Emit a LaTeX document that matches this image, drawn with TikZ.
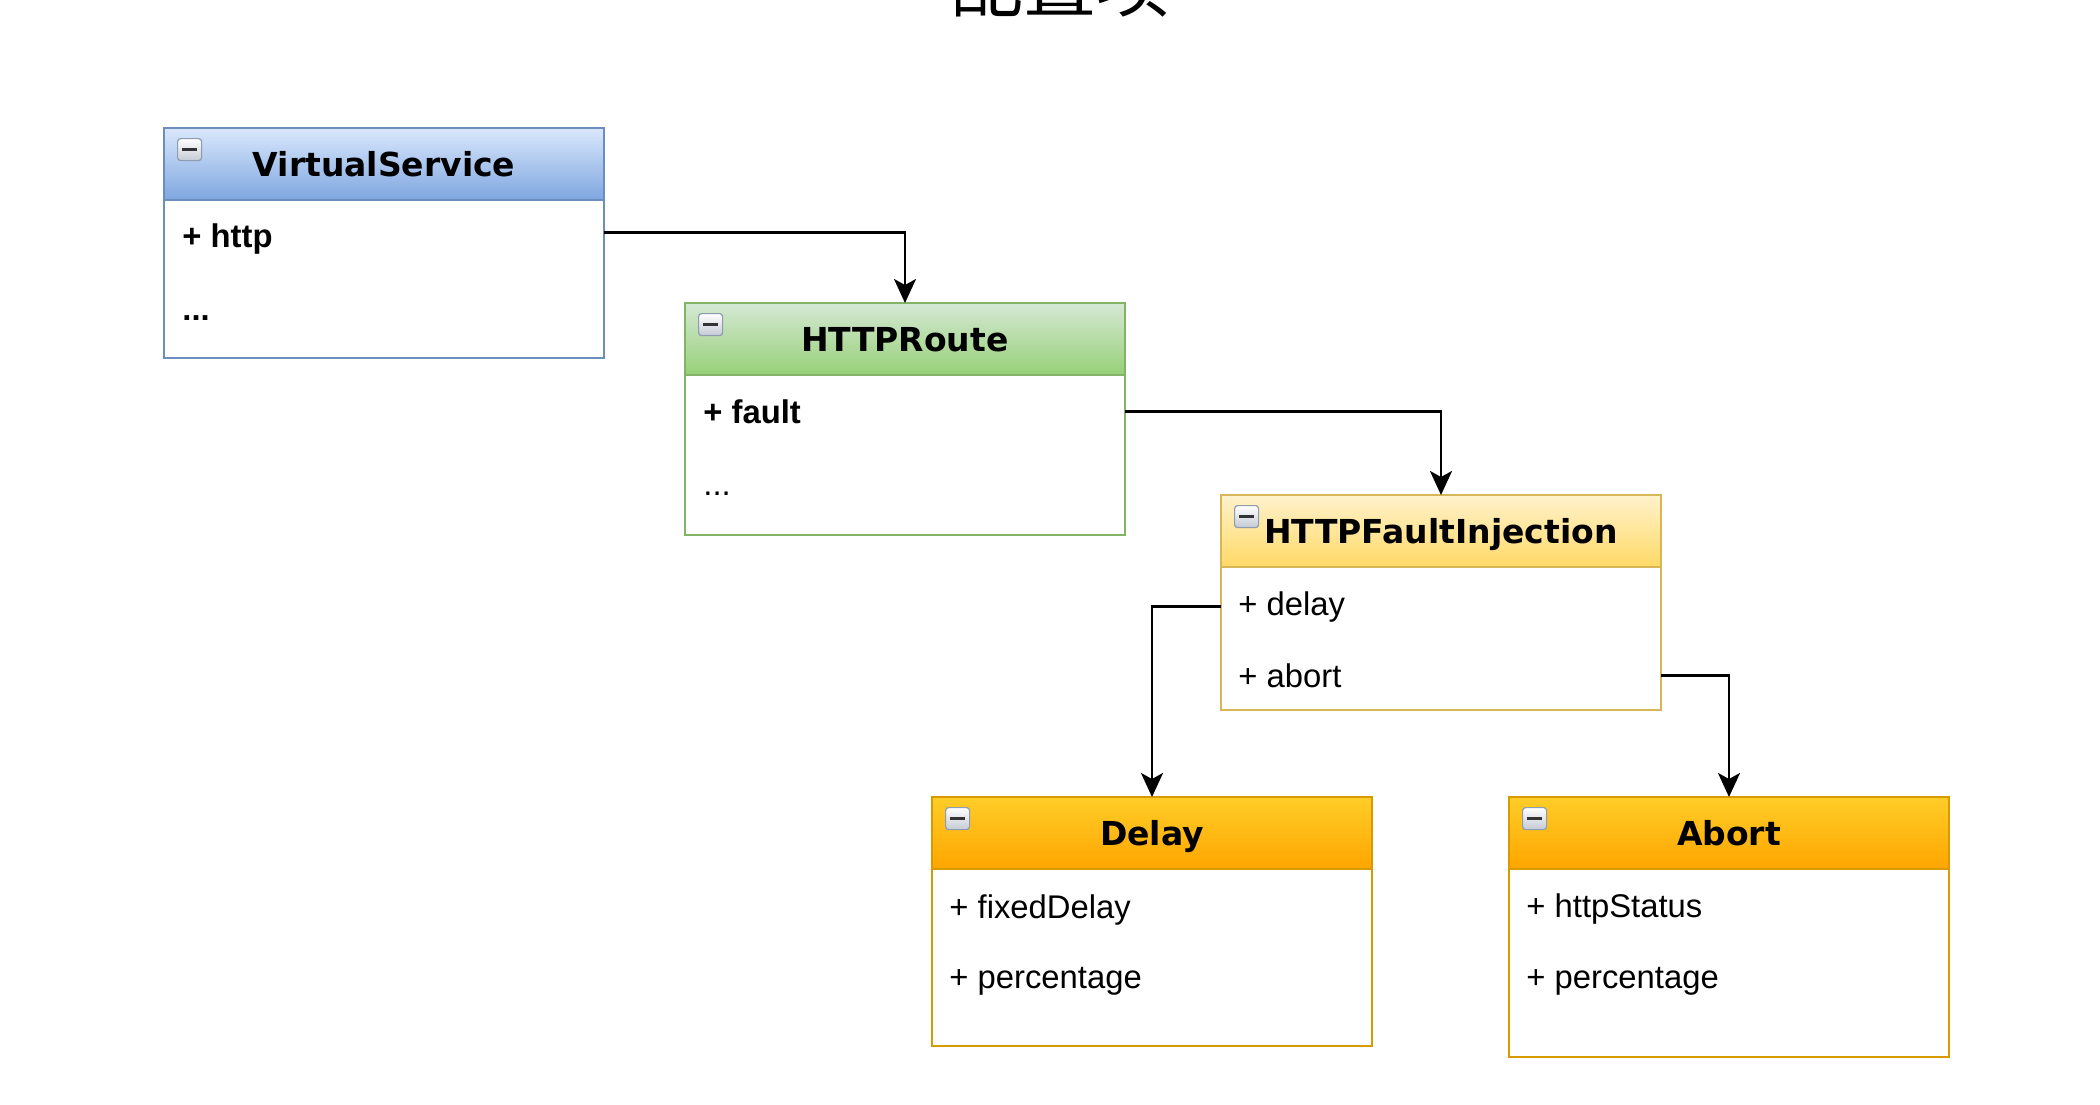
\documentclass[tikz,border=0pt]{standalone}
\usepackage{fontspec}
\setmainfont{Liberation Sans}
\newfontfamily\titlefont{DejaVu Sans}
\newfontfamily\cjkfont{Noto Sans CJK SC}
\usetikzlibrary{arrows.meta}
\definecolor{vsTop}{HTML}{DAE8FC}\definecolor{vsBot}{HTML}{7EA6E0}\definecolor{vsLine}{HTML}{6C8EBF}
\definecolor{hrTop}{HTML}{D5E8D4}\definecolor{hrBot}{HTML}{97D077}\definecolor{hrLine}{HTML}{82B366}
\definecolor{fiTop}{HTML}{FFF2CC}\definecolor{fiBot}{HTML}{FFD966}\definecolor{fiLine}{HTML}{D6B656}
\definecolor{orTop}{HTML}{FFCD28}\definecolor{orBot}{HTML}{FFA500}\definecolor{orLine}{HTML}{D79B00}
\definecolor{icBorder}{HTML}{8E9CB0}\definecolor{icBot}{HTML}{C4CAD4}\definecolor{icBar}{HTML}{333333}
\tikzset{
  classbox/.style={draw, line width=1pt, fill=white, minimum width=220pt, inner sep=0pt, outer sep=0pt},
  hdr/.style={draw, line width=1pt, minimum width=220pt, minimum height=36pt, inner sep=0pt, outer sep=0pt},
  ttl/.style={anchor=base, inner sep=0pt, font=\titlefont\bfseries\fontsize{16.5}{19}\selectfont},
  rowtext/.style={anchor=base west, inner sep=0pt, font=\fontsize{16.4}{19}\selectfont},
  iconbox/.style={draw=icBorder, line width=0.6pt, rounded corners=1.5pt, top color=white, bottom color=icBot, minimum width=12pt, minimum height=11pt, inner sep=0pt},
  conn/.style={draw, line width=1.25pt, -{Stealth[length=12pt,width=11pt,inset=3pt]}}
}
\newcommand{\umlclass}[8]{%
  \node[classbox, draw=#7, minimum height=#4*0.5pt, anchor=north west] (#1) at (#2,#3) {};
  \node[hdr, draw=#7, top color=#5, bottom color=#6, anchor=north west] (#1h) at (#2,#3) {};
  \node[iconbox, anchor=north west] (#1i) at (#2+13,#3+10) {};
  \draw[icBar, line width=1.8pt] ([xshift=2.5pt]#1i.west) -- ([xshift=-2.5pt]#1i.east);
  \node[ttl] (#1t) at (#2+220,#3+48) {#8};
}
\begin{document}
\begin{tikzpicture}[x=0.5pt, y=-0.5pt]
\useasboundingbox (0,0) rectangle (2100,1104);
\fill[white] (0,0) rectangle (2100,1104);
\node[anchor=base, inner sep=0pt, font=\cjkfont\fontsize{36.5}{40}\selectfont] (title) at (1060,11) {配置项};

\umlclass{vs}{164}{128}{230}{vsTop}{vsBot}{vsLine}{VirtualService}
\node[rowtext] (vshttp) at (182,247) {\bfseries + http};
\node[rowtext] (vsmore) at (182,320) {\bfseries ...};

\umlclass{hr}{685}{303}{232}{hrTop}{hrBot}{hrLine}{HTTPRoute}
\node[rowtext] (hrfault) at (703,423) {\bfseries + fault};
\node[rowtext] (hrmore) at (703,495) {...};

\umlclass{fi}{1221}{495}{215}{fiTop}{fiBot}{fiLine}{HTTPFaultInjection}
\node[rowtext] (fidelay) at (1238,615) {+ delay};
\node[rowtext] (fiabort) at (1238,687) {+ abort};

\umlclass{dl}{932}{797}{249}{orTop}{orBot}{orLine}{Delay}
\node[rowtext] (dlfixed) at (949,918) {+ fixedDelay};
\node[rowtext] (dlpct) at (949,988) {+ percentage};

\umlclass{ab}{1509}{797}{260}{orTop}{orBot}{orLine}{Abort}
\node[rowtext] (abstatus) at (1526,917) {+ httpStatus};
\node[rowtext] (abpct) at (1526,988) {+ percentage};

\draw[conn] ([yshift=3pt]vs.east |- vshttp) -| (hr.north);
\draw[conn] (hr.east |- hrfault) -| (fi.north);
\draw[conn] (fi.west |- fidelay) -| (dl.north);
\draw[conn] (fi.east |- fiabort) -| (ab.north);
\end{tikzpicture}
\end{document}
